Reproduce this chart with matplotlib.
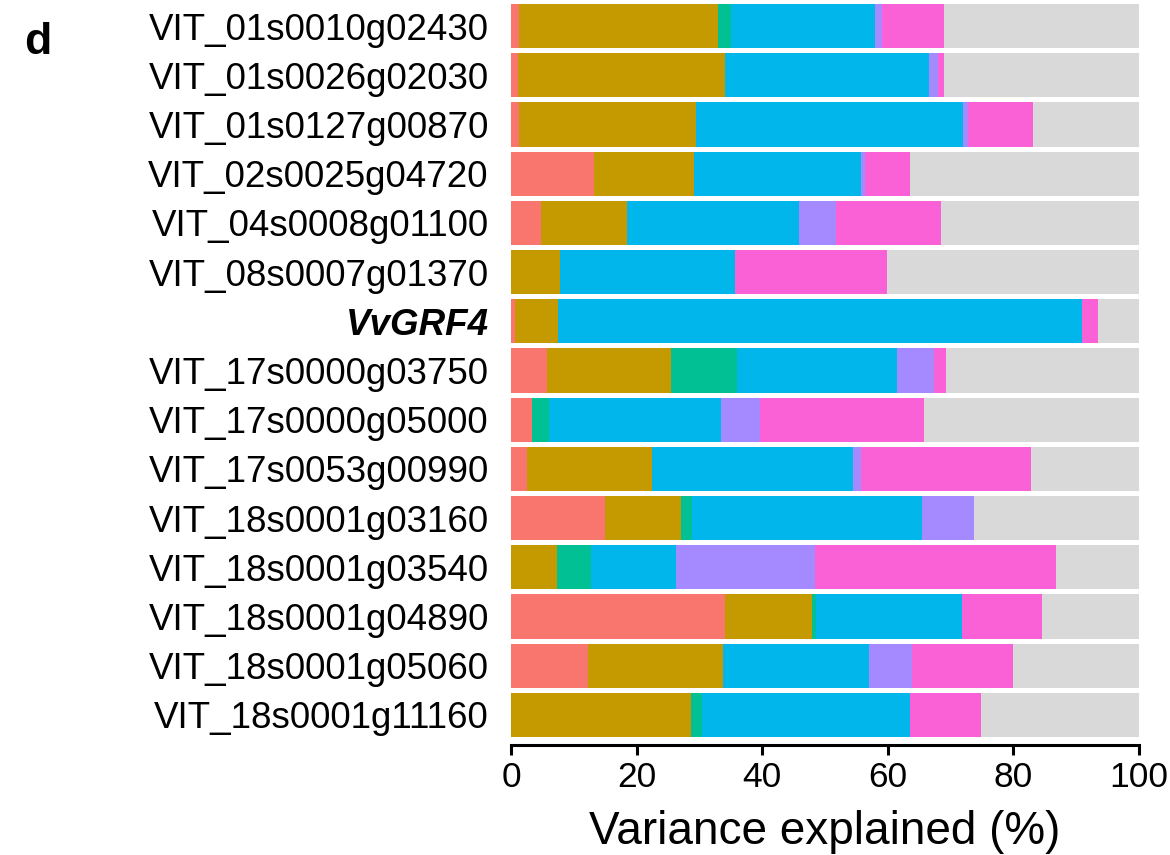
import matplotlib
matplotlib.use("Agg")
import matplotlib.pyplot as plt
import numpy as np

# DATA (% variance explained)
genes = ["VIT_01s0010g02430", "VIT_01s0026g02030", "VIT_01s0127g00870",
         "VIT_02s0025g04720", "VIT_04s0008g01100", "VIT_08s0007g01370",
         "VvGRF4", "VIT_17s0000g03750", "VIT_17s0000g05000",
         "VIT_17s0053g00990", "VIT_18s0001g03160", "VIT_18s0001g03540",
         "VIT_18s0001g04890", "VIT_18s0001g05060", "VIT_18s0001g11160"]

comp1 = [1.2, 1.1, 1.2, 13.2, 4.7, 0.0, 0.6, 5.8, 3.3, 2.6, 14.9, 0.0, 34.1, 12.3, 0.0]
comp2 = [31.8, 33.0, 28.3, 15.9, 13.8, 7.8, 6.8, 19.7, 0.0, 19.8, 12.2, 7.3, 13.9, 21.4, 28.6]
comp3 = [2.0, 0.0, 0.0, 0.0, 0.0, 0.0, 0.0, 10.5, 2.8, 0.0, 1.7, 5.5, 0.5, 0.0, 1.8]
comp4 = [23.0, 32.5, 42.4, 26.6, 27.3, 27.9, 83.5, 25.5, 27.3, 32.0, 36.7, 13.4, 23.3, 23.3, 33.1]
comp5 = [1.1, 1.4, 0.8, 0.7, 5.9, 0.0, 0.0, 5.8, 6.3, 1.3, 8.2, 22.2, 0.0, 6.9, 0.0]
comp6 = [9.8, 0.9, 10.4, 7.1, 16.8, 24.2, 2.6, 1.9, 26.1, 27.1, 0.0, 38.4, 12.8, 16.0, 11.3]

xticks = [0, 20, 40, 60, 80, 100]

colors = ["#F8766D", "#C49A00", "#00C094", "#00B6EB", "#A58AFF", "#FB61D7"]
resid_color = "#D9D9D9"

plt.rcParams["font.family"] = ["Liberation Sans", "DejaVu Sans"]

# FIGURE
fig = plt.figure(figsize=(11.7, 8.55), dpi=100)
ax = fig.add_axes([0.4368, 0.1380, 0.5367, 0.8573])

comps = np.array([comp1, comp2, comp3, comp4, comp5, comp6])
y = np.arange(len(genes))
left = np.zeros(len(genes))
for vals, col in zip(comps, colors):
    ax.barh(y, vals, left=left, height=0.9, color=col, linewidth=0)
    left = left + vals
# residual (unexplained) part fills up to 100
ax.barh(y, 100 - left, left=left, height=0.9, color=resid_color, linewidth=0)

ax.set_xlim(0, 100)
ax.set_ylim(len(genes) - 0.55, -0.45)

ax.set_yticks(y)
ax.set_yticklabels(genes)
ax.tick_params(axis="y", length=0, pad=16, labelsize=26.5)
for lab in ax.get_yticklabels():
    if lab.get_text() == "VvGRF4":
        lab.set_fontstyle("italic")
        lab.set_fontweight("bold")

ax.set_xticks(xticks)
ax.set_xticklabels([str(t) for t in xticks])
ax.tick_params(axis="x", length=7.5, width=2.2, pad=4, labelsize=25.5)
ax.set_xlabel("Variance explained (%)", fontsize=33, labelpad=11)

for s in ["top", "right", "left"]:
    ax.spines[s].set_visible(False)
ax.spines["bottom"].set_position(("outward", 6))
ax.spines["bottom"].set_linewidth(2.2)

fig.text(0.021, 0.937, "d", fontsize=32, fontweight="bold")

fig.savefig("out.png", dpi=100)
